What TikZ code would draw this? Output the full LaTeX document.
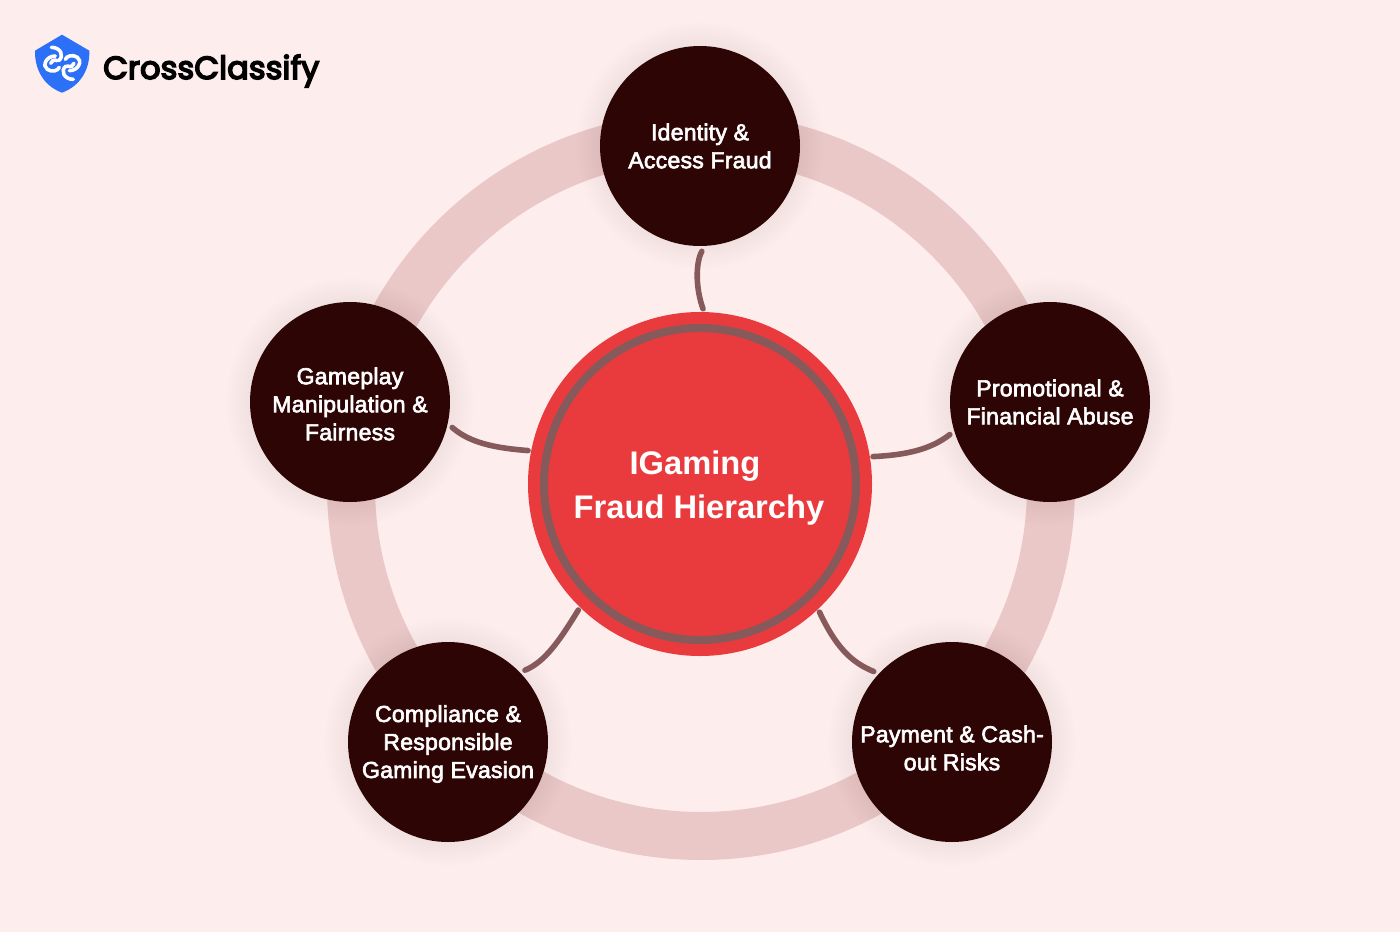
\documentclass[tikz,border=0pt]{standalone}
\usepackage{fontspec}
\setmainfont{Liberation Sans}[FakeBold=2.8,LetterSpace=1]
\newfontfamily\titlefont{Liberation Sans Bold}
\newfontfamily\logofont{Poppins}[FakeBold=5,LetterSpace=0.6]
\definecolor{bgc}{HTML}{FEEDED}
\definecolor{ringc}{HTML}{EBC8C8}
\definecolor{darkc}{HTML}{2E0505}
\definecolor{redc}{HTML}{E93B3D}
\definecolor{linkc}{HTML}{865A5A}
\definecolor{bluec}{HTML}{2B70F7}
\tikzset{
  hub/.style={circle,fill=darkc,draw=none,minimum size=150pt,inner sep=0pt,outer sep=4pt},
  hubtext/.style={text=white,align=center,font=\fontsize{17.3pt}{21pt}\selectfont,inner sep=0pt},
  core/.style={circle,fill=redc,draw=none,minimum size=258pt,inner sep=0pt,outer sep=2.4pt},
  titletext/.style={text=white,align=center,font=\titlefont\fontsize{24.5pt}{33pt}\selectfont,inner sep=0pt},
  link/.style={draw=linkc,line width=4.2pt,line cap=round},
  glyph/.style={draw=white,line width=2.7pt,line cap=round},
}
\newcommand{\softcircle}[3]{%
  \foreach \k in {1,...,12}{\fill[black,opacity=.004] (#1,#2) circle ({#3+2*\k});}}
\begin{document}
\begin{tikzpicture}[x=.75pt,y=-.75pt]
\useasboundingbox (0,0) rectangle (1400,932);
\fill[bgc] (0,0) rectangle (1400,932);
% ring glow
\foreach \k in {1,...,14}{\draw[black,opacity=.0012,line width={(48+6*\k)*.75pt}] (701,486) circle (350);}
\draw[ringc,line width=36pt] (701,486) circle (350);
% node glows
\softcircle{700}{146}{100}
\softcircle{1050}{402}{100}
\softcircle{952}{742}{100}
\softcircle{448}{742}{100}
\softcircle{350}{402}{100}
\node[core] (c) at (700,484) {};
\node[hub] (n1) at (700,146) {};
\node[hub] (n2) at (1050,402) {};
\node[hub] (n3) at (952,742) {};
\node[hub] (n4) at (448,742) {};
\node[hub] (n5) at (350,402) {};
\draw[linkc,line width=6pt] (c.center) circle (156);
\node[titletext] (ct) at (699,488) {IGaming\hspace*{6pt}\\Fraud Hierarchy};
\node[hubtext] (t1) at (700,146) {Identity \&\\Access Fraud};
\node[hubtext] (t2) at (1050,402) {Promotional \&\\Financial Abuse};
\node[hubtext] (t3) at (952,748) {Payment \& Cash-\\out Risks};
\node[hubtext] (t4) at (448,744) {Compliance \&\\Responsible\\Gaming Evasion};
\node[hubtext] (t5) at (350,404) {Gameplay\\Manipulation \&\\Fairness};
% connectors
\draw[link] (n1.271) .. controls (695,264) and (696,290) .. (c.89.7);
\draw[link] (c.9.2) .. controls (905,455) and (930,450) .. (n2.198);
\draw[link] (c.169) .. controls (495,448) and (470,443) .. (n5.-14.5);
\draw[link] (c.226) .. controls (560,640) and (545,662) .. (n4.43.5);
\draw[link] (c.-47.5) .. controls (835,645) and (850,662) .. (n3.138.8);
% logo
\begin{scope}[x=.25pt,y=-.25pt,shift={(22.5pt,-22.5pt)}]
\fill[bluec] (96,14) -- (178,62) .. controls (180,120) and (150,168) .. (96,188) .. controls (42,168) and (14,120) .. (15,62) -- cycle;
\draw[glyph] (64,52) .. controls (92,52) and (104,78) .. (86,92);
\draw[glyph] (76,78) .. controls (48,78) and (36,108) .. (52,118) .. controls (66,128) and (84,122) .. (88,112);
\draw[glyph] (62,100) .. controls (64,92) and (72,88) .. (82,92);
\draw[glyph] (130,148) .. controls (102,148) and (90,122) .. (108,108);
\draw[glyph] (118,122) .. controls (146,122) and (158,92) .. (142,82) .. controls (128,72) and (110,78) .. (106,88);
\draw[glyph] (132,100) .. controls (130,108) and (122,112) .. (112,108);
\end{scope}
\node[anchor=base west,inner sep=0pt,font=\logofont\fontsize{23.9pt}{30pt}\selectfont,text=black] (logo) at (103,79) {CrossClassify};
\end{tikzpicture}
\end{document}
